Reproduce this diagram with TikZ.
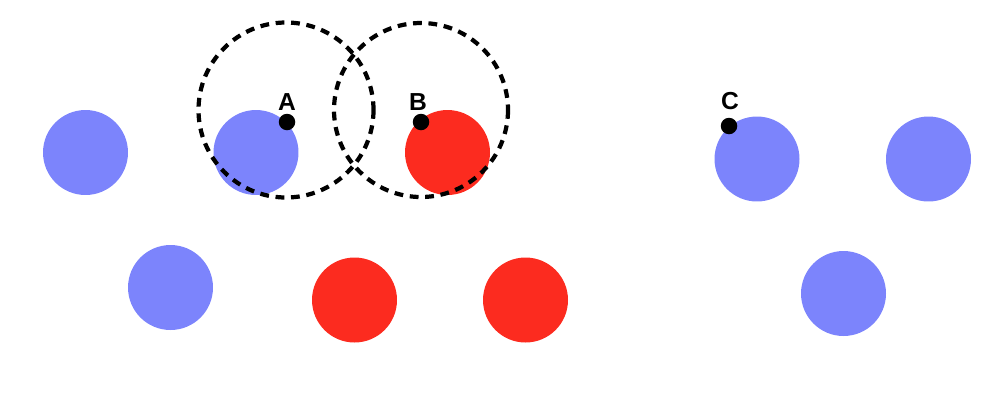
\documentclass[tikz,border=0pt]{standalone}
\usepackage{fontspec}
\setmainfont{Liberation Sans}
\usepackage{xcolor}
\definecolor{clsblue}{HTML}{7C84FC}
\definecolor{clsred}{HTML}{FC2B1F}
\usepackage{tikz}
\usetikzlibrary{positioning}

\begin{document}
\begin{tikzpicture}[x=0.02cm, y=-0.02cm,
    every node/.style={font=\fontsize{14}{16}\selectfont\bfseries},
    bluept/.style={circle, fill=clsblue, minimum size=1.7cm, inner sep=0pt},
    redpt/.style={circle, fill=clsred, minimum size=1.7cm, inner sep=0pt},
    query/.style={circle, fill=black, minimum size=0.33cm, inner sep=0pt},
    ring/.style={draw=black, line width=2.4pt, dash pattern=on 5pt off 3.8pt},
    lbl/.style={inner sep=0pt, anchor=south}]
  \useasboundingbox (0,0) rectangle (1006,403);
  % training points
  \node[bluept] (b1) at (85.5,152.5) {};
  \node[bluept] (b2) at (256,152.5) {};
  \node[bluept] (b3) at (170.5,287.5) {};
  \node[bluept] (b4) at (757,159) {};
  \node[bluept] (b5) at (928.5,159) {};
  \node[bluept] (b6) at (843.5,293.5) {};
  \node[redpt]  (r1) at (447.5,152.5) {};
  \node[redpt]  (r2) at (354.5,300) {};
  \node[redpt]  (r3) at (525.5,300) {};
  % neighbourhoods
  \draw[ring] (286,110) circle (87.5);
  \draw[ring] (421,110) circle (87);
  % query points
  \node[query] (qa) at (287,122) {};
  \node[query] (qb) at (421,122) {};
  \node[query] (qc) at (729,126) {};
  \node[lbl] (la) at (287,111) {A};
  \node[lbl] (lb) at (418,111) {B};
  \node[lbl] (lc) at (730,110) {C};
\end{tikzpicture}
\end{document}
